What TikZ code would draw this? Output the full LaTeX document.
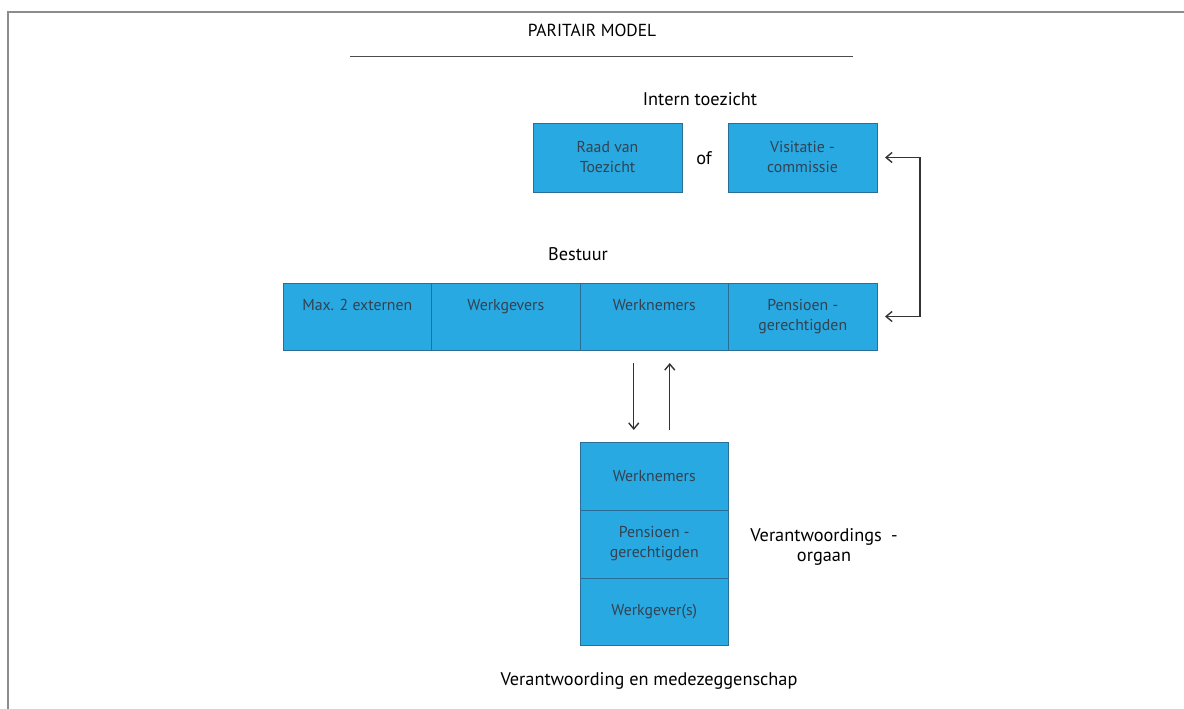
\documentclass[tikz,border=0pt]{standalone}
\usepackage{fontspec}
\setmainfont{PT Sans}
\usetikzlibrary{positioning,arrows.meta}
\definecolor{boxblue}{RGB}{41,169,225}
\definecolor{boxline}{RGB}{40,110,150}
\definecolor{boxtext}{RGB}{50,66,82}
\definecolor{framegray}{RGB}{140,140,140}
\begin{document}
\begin{tikzpicture}[x=1pt,y=-1pt,
  blok/.style={draw=boxline,line width=0.8pt,fill=boxblue,minimum width=148.5pt,minimum height=68pt,inner sep=0pt,outer sep=0pt},
  bloktekst/.style={text=boxtext,font=\fontsize{15.8}{20}\selectfont,align=center,inner sep=0pt},
  kop/.style={font=\fontsize{18.3}{20}\selectfont,align=center},
  pijl/.style={draw=black!80,line width=1.4pt,-{Straight Barb[length=6pt,width=10pt]}}]
\useasboundingbox (0,0) rectangle (1184,709);

% kader
\draw[framegray,line width=1.8pt] (8,709) -- (8,12) -- (1184,12);

% titel
\node[kop,font=\fontsize{17.4}{20}\selectfont] (titel) at (592,30) {PARITAIR MODEL};
\draw[black!70,line width=0.8pt] (350,56) -- (853,56);

% intern toezicht
\node[kop] (intern) at (700,99) {Intern toezicht};
\node[blok,minimum width=149pt,minimum height=69pt,bloktekst] (rvt) at (607.5,157.5) {Raad van\\Toezicht};
\node[kop] (of) at (704,158) {of};
\node[blok,minimum width=149pt,minimum height=69pt,bloktekst] (visit) at (802.5,157.5) {Visitatie -\\commissie};

% bestuur
\node[kop] (bestuur) at (578,254) {Bestuur};
\node[blok,minimum height=67pt] (ext) at (357.25,316.5) {};
\node[blok,minimum height=67pt,right=0pt of ext] (wg) {};
\node[blok,minimum height=67pt,right=0pt of wg] (wn) {};
\node[blok,minimum height=67pt,right=0pt of wn] (pens) {};
\node[bloktekst,anchor=north] (exttxt) at ([yshift=-16pt]ext.north) {Max. 2 externen};
\node[bloktekst,anchor=north] (wgtxt) at ([yshift=-16pt]wg.north) {Werkgevers};
\node[bloktekst,anchor=north] (wntxt) at ([yshift=-16pt]wn.north) {Werknemers};
\node[bloktekst,anchor=north] (penstxt) at ([yshift=-16pt]pens.north) {Pensioen -\\gerechtigden};

% verantwoordingsorgaan
\node[blok,bloktekst,below=92pt of wn] (vwn) {Werknemers};
\node[blok,bloktekst,below=0pt of vwn] (vpens) {Pensioen -\\gerechtigden};
\node[blok,bloktekst,minimum height=67pt,below=0pt of vpens] (vwg) {Werkgever(s)};
\node[kop] (vo) at (824,547) {Verantwoordings\enspace-\\orgaan};
\node[kop] (onder) at (649,681) {Verantwoording en medezeggenschap};

% pijlen
\draw[pijl] ([xshift=-20.5pt,yshift=-13pt]wn.south) -- ([xshift=-20.5pt,yshift=12pt]vwn.north);
\draw[pijl] ([xshift=15.5pt,yshift=12pt]vwn.north) -- ([xshift=15.5pt,yshift=-13pt]wn.south);
\draw[pijl,{Straight Barb[length=6pt,width=10pt]}-{Straight Barb[length=6pt,width=10pt]}] ([xshift=8pt]visit.east) -- ++(35,0) |- ([xshift=8pt]pens.east);
\end{tikzpicture}
\end{document}
